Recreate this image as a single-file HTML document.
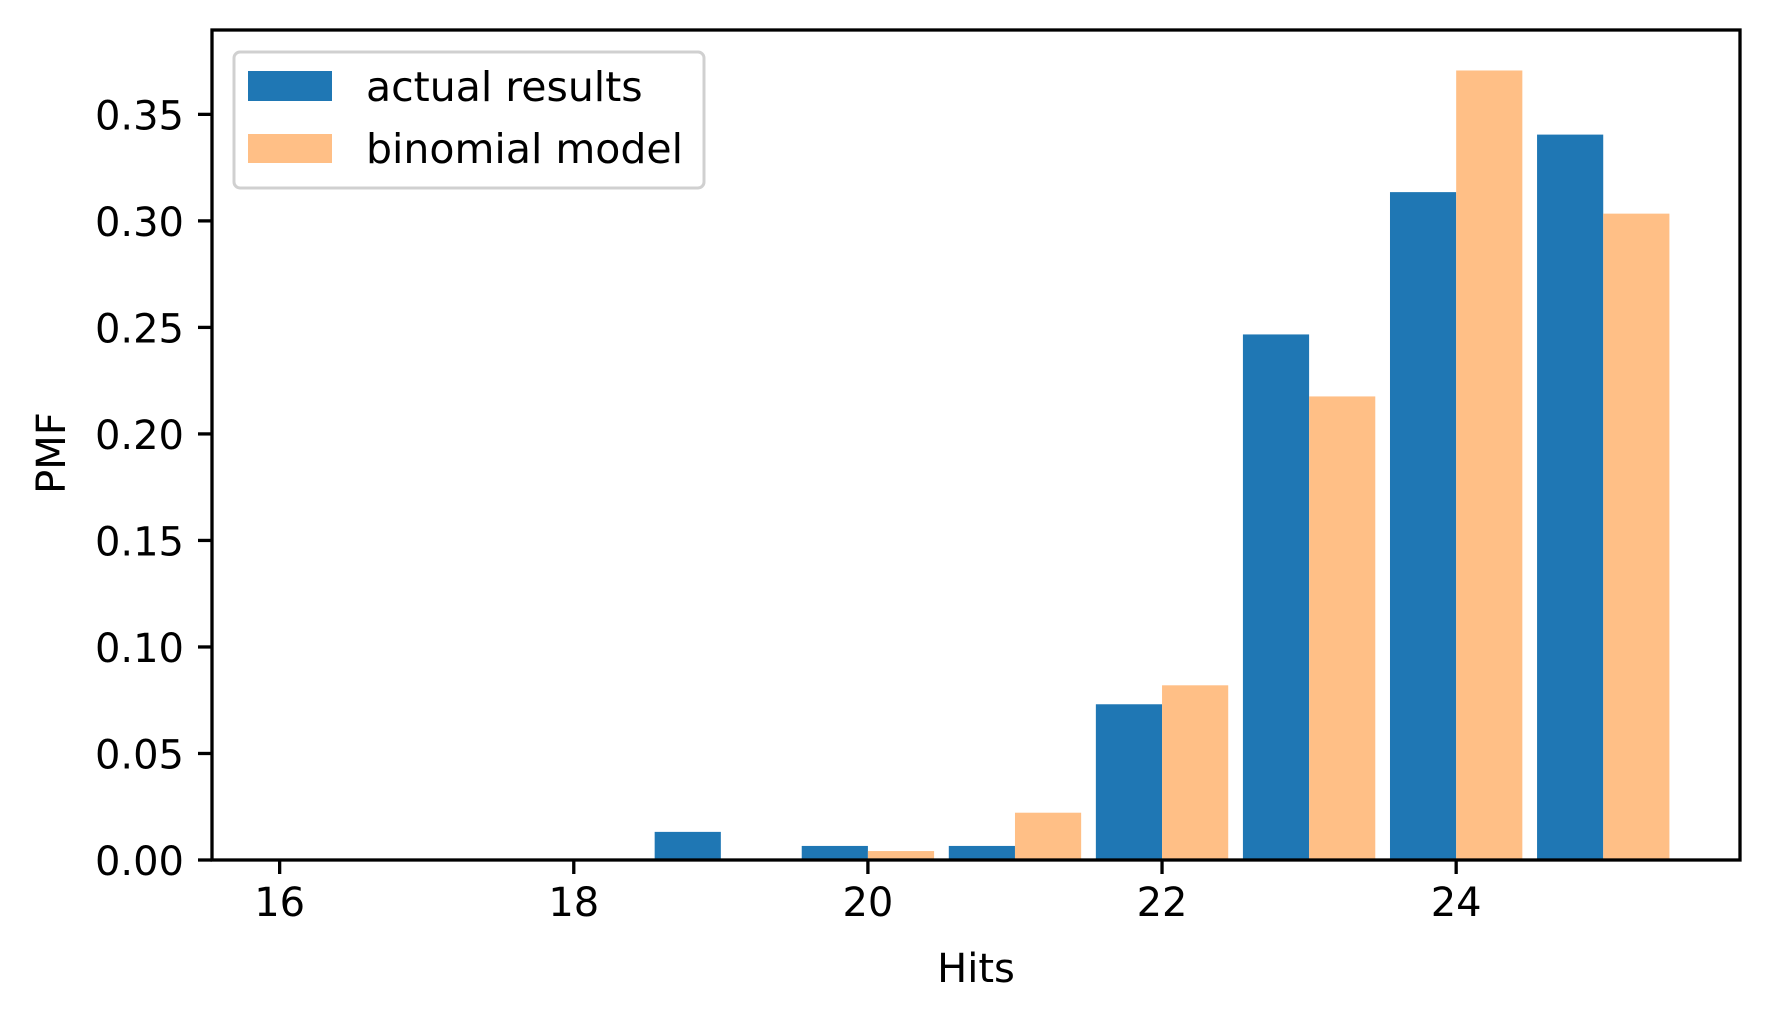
<!DOCTYPE html>
<html><head><meta charset="utf-8"><style>
html,body{margin:0;padding:0;background:#fff;}
svg{display:block;font-family:"DejaVu Sans","Liberation Sans",sans-serif;}
</style></head><body>
<svg id="chart" width="1770" height="1020" viewBox="0 0 1770 1020">
<g id="bars"></g>
<g id="axes"></g>
<g>
<rect x="234" y="52" width="470" height="136" rx="6" fill="#fff" fill-opacity="0.8" stroke="#d0d0d0" stroke-width="3"/>
<rect x="248" y="71" width="84" height="30" fill="#1f77b4"/>
<text x="366" y="101" font-size="41" fill="#000">actual results</text>
<rect x="248" y="134" width="84" height="29" fill="#ffbf86"/>
<text x="366" y="163" font-size="41" fill="#000">binomial model</text>
</g>
<text x="976" y="982" font-size="40" text-anchor="middle">Hits</text>
<text transform="translate(65,453) rotate(-90)" font-size="40" text-anchor="middle">PMF</text>
</svg>
<script>
const hits = [19, 20, 21, 22, 23, 24, 25];
const actualValues = [0.0132, 0.0066, 0.0066, 0.0731, 0.2467, 0.3135, 0.3405];
const binomialValues = [0.0003, 0.0042, 0.0222, 0.0820, 0.2176, 0.3706, 0.3034];
const xTicks = [16, 18, 20, 22, 24];
const yTicks = [0, 0.05, 0.10, 0.15, 0.20, 0.25, 0.30, 0.35];
const yTickLabels = ["0.00","0.05","0.10","0.15","0.20","0.25","0.30","0.35"];

const L = 212, R = 1740, T = 30, B = 860;
const xMin = 15.54, xMax = 25.93, yMax = 0.3896;
const xs = v => L + (v - xMin) / (xMax - xMin) * (R - L);
const ys = v => B - v / yMax * (B - T);
const NS = "http://www.w3.org/2000/svg";
const bars = document.getElementById('bars');
const axes = document.getElementById('axes');
function mk(tag, attrs, parent) {
  const e = document.createElementNS(NS, tag);
  for (const k in attrs) e.setAttribute(k, attrs[k]);
  parent.appendChild(e);
  return e;
}
const w = 0.45;
hits.forEach((h, i) => {
  const a = mk('rect', {x: xs(h - w), y: ys(actualValues[i]), width: xs(h) - xs(h - w), height: B - ys(actualValues[i]), fill: '#1f77b4'}, bars);
  
  
  const b = mk('rect', {x: xs(h), y: ys(binomialValues[i]), width: xs(h + w) - xs(h), height: B - ys(binomialValues[i]), fill: '#ffbf86'}, bars);
  
  
});
const frame = mk('rect', {x: L, y: T, width: R - L, height: B - T, fill: 'none', stroke: '#000', 'stroke-width': 3.3}, axes);


xTicks.forEach(t => {
  const ln = mk('line', {x1: xs(t), x2: xs(t), y1: B, y2: B + 14, stroke: '#000', 'stroke-width': 3.3}, axes);
  
  
  const tx = mk('text', {x: xs(t), y: B + 56, 'font-size': 40, 'text-anchor': 'middle'}, axes);
  tx.textContent = t;
  
  
});
yTicks.forEach((t, i) => {
  const ln = mk('line', {x1: L - 14, x2: L, y1: ys(t), y2: ys(t), stroke: '#000', 'stroke-width': 3.3}, axes);
  
  
  const tx = mk('text', {x: L - 28, y: ys(t) + 15, 'font-size': 40, 'text-anchor': 'end'}, axes);
  tx.textContent = yTickLabels[i];
  
  
});
</script>
</body></html>
